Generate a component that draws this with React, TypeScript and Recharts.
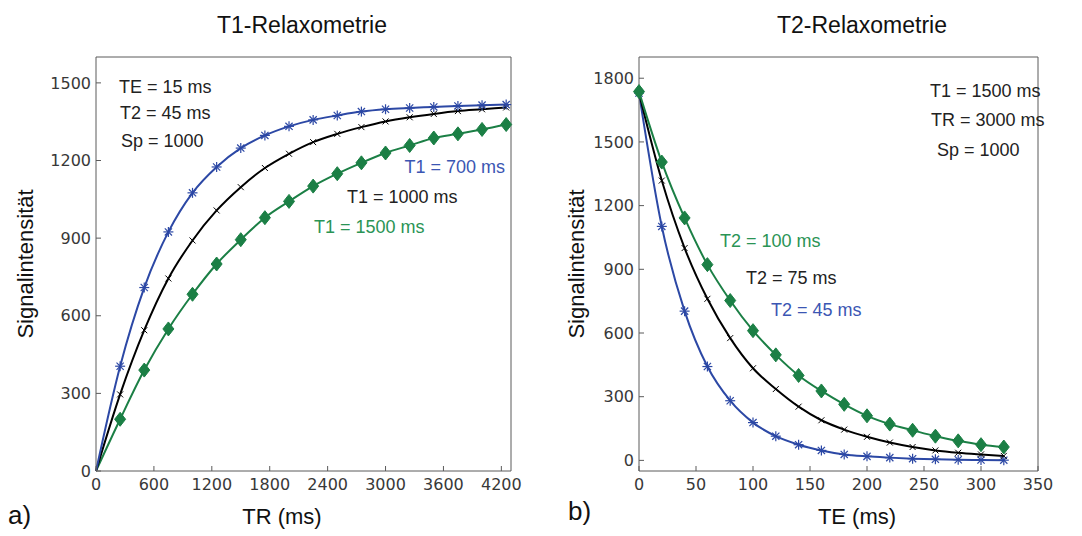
import { Line, LineChart, XAxis, YAxis } from "recharts";

// T1-Relaxometrie: Signal über TR, Marker alle 250 ms
const trValues = [0, 250, 500, 750, 1000, 1250, 1500, 1750, 2000, 2250, 2500, 2750, 3000, 3250, 3500, 3750, 4000, 4250];
const t1_700 = [0, 405, 709, 924, 1075, 1175, 1248, 1297, 1332, 1357, 1374, 1389, 1398, 1403, 1407, 1411, 1414, 1416];
const t1_1000 = [0, 296, 544, 744, 891, 1007, 1097, 1171, 1226, 1271, 1303, 1329, 1351, 1367, 1380, 1391, 1398, 1405];
const t1_1500 = [0, 200, 390, 549, 683, 800, 894, 979, 1042, 1101, 1149, 1191, 1229, 1258, 1287, 1303, 1320, 1339];
const trTicks = [0, 600, 1200, 1800, 2400, 3000, 3600, 4200];
const t1YTicks = [0, 300, 600, 900, 1200, 1500];

// T2-Relaxometrie: Signal über TE, Marker alle 20 ms
const teValues = [0, 20, 40, 60, 80, 100, 120, 140, 160, 180, 200, 220, 240, 260, 280, 300, 320];
const t2_100 = [1737, 1405, 1142, 922, 753, 611, 497, 400, 327, 264, 210, 171, 142, 114, 92, 74, 63];
const t2_75 = [1730, 1318, 1000, 761, 576, 434, 336, 253, 189, 145, 111, 84, 63, 47, 36, 28, 21];
const t2_45 = [1730, 1102, 703, 442, 281, 178, 114, 74, 47, 28, 19, 13, 8, 5, 3, 2, 1];
const teTicks = [0, 50, 100, 150, 200, 250, 300, 350];
const t2YTicks = [0, 300, 600, 900, 1200, 1500, 1800];

const BLUE = "#2c48a5";
const GREEN = "#1b7f45";
const BLACK = "#000000";
const AXIS = "#5a5a5a";

const t1Rows = trValues.map((tr, i) => ({ x: tr, a: t1_700[i], b: t1_1000[i], c: t1_1500[i] }));
const t2Rows = teValues.map((te, i) => ({ x: te, a: t2_45[i], b: t2_75[i], c: t2_100[i] }));

const tickStyle = { fill: "#383838", fontSize: 16, fontFamily: "DejaVu Sans, Verdana, sans-serif" };

function Asterisk(props: any) {
  const { cx, cy, index, payload, skipZero } = props;
  if (cx == null || cy == null || (skipZero && payload.x === 0)) return <g key={`s${index}`} />;
  const r = 5;
  const d = 3.6;
  return (
    <g key={`s${index}`} stroke={BLUE} strokeWidth={1.2}>
      <line x1={cx - r} y1={cy} x2={cx + r} y2={cy} />
      <line x1={cx} y1={cy - r} x2={cx} y2={cy + r} />
      <line x1={cx - d} y1={cy - d} x2={cx + d} y2={cy + d} />
      <line x1={cx - d} y1={cy + d} x2={cx + d} y2={cy - d} />
    </g>
  );
}

function Cross(props: any) {
  const { cx, cy, index, payload, skipZero } = props;
  if (cx == null || cy == null || (skipZero && payload.x === 0)) return <g key={`x${index}`} />;
  const d = 3;
  return (
    <g key={`x${index}`} stroke={BLACK} strokeWidth={1}>
      <line x1={cx - d} y1={cy - d} x2={cx + d} y2={cy + d} />
      <line x1={cx - d} y1={cy + d} x2={cx + d} y2={cy - d} />
    </g>
  );
}

function Diamond(props: any) {
  const { cx, cy, index, payload, skipZero } = props;
  if (cx == null || cy == null || (skipZero && payload.x === 0)) return <g key={`d${index}`} />;
  const w = 5.5;
  const h = 7;
  return (
    <path
      key={`d${index}`}
      d={`M${cx},${cy - h}L${cx + w},${cy}L${cx},${cy + h}L${cx - w},${cy}Z`}
      fill={GREEN}
      stroke={GREEN}
      strokeWidth={1}
    />
  );
}

function boxAxes(xDomain: number[], xTicks: number[], yDomain: number[], yTicks: number[]) {
  return [
    <XAxis
      key="xb"
      dataKey="x"
      type="number"
      domain={xDomain}
      ticks={xTicks}
      height={30}
      stroke={AXIS}
      tickSize={-5}
      tickMargin={13}
      tick={tickStyle}
      interval={0}
    />,
    <XAxis
      key="xt"
      xAxisId="top"
      orientation="top"
      type="number"
      domain={xDomain}
      ticks={xTicks}
      height={1}
      stroke={AXIS}
      tickSize={-5}
      tick={false}
      interval={0}
    />,
    <YAxis
      key="yl"
      type="number"
      domain={yDomain}
      ticks={yTicks}
      width={60}
      stroke={AXIS}
      tickSize={-5}
      tickMargin={10}
      tick={tickStyle}
      interval={0}
    />,
    <YAxis
      key="yr"
      yAxisId="right"
      orientation="right"
      type="number"
      domain={yDomain}
      ticks={yTicks}
      width={1}
      stroke={AXIS}
      tickSize={-5}
      tick={false}
      interval={0}
    />,
  ];
}

export default function App() {
  const txt = { fontFamily: "Liberation Sans, Arial, sans-serif" };
  return (
    <div style={{ position: "absolute", left: 0, top: 0, width: 1082, height: 536, background: "#fff" }}>
      <div style={{ position: "absolute", left: 0, top: 0 }}>
        <LineChart width={540} height={536} data={t1Rows} margin={{ top: 56, right: 28, bottom: 35, left: 36 }}>
          {boxAxes([0, 4300], trTicks, [0, 1600], t1YTicks)}
          <Line
            type="monotone"
            dataKey="c"
            stroke={GREEN}
            strokeWidth={2}
            dot={(p: any) => <Diamond {...p} skipZero />}
            isAnimationActive={false}
          />
          <Line
            type="monotone"
            dataKey="b"
            stroke={BLACK}
            strokeWidth={2}
            dot={(p: any) => <Cross {...p} skipZero />}
            isAnimationActive={false}
          />
          <Line
            type="monotone"
            dataKey="a"
            stroke={BLUE}
            strokeWidth={2}
            dot={(p: any) => <Asterisk {...p} skipZero />}
            isAnimationActive={false}
          />
        </LineChart>
      </div>
      <div style={{ position: "absolute", left: 540, top: 0 }}>
        <LineChart width={542} height={536} data={t2Rows} margin={{ top: 56, right: 43, bottom: 35, left: 39 }}>
          {boxAxes([0, 350], teTicks, [-50, 1900], t2YTicks)}
          <Line
            type="monotone"
            dataKey="a"
            stroke={BLUE}
            strokeWidth={2}
            dot={(p: any) => <Asterisk {...p} />}
            isAnimationActive={false}
          />
          <Line
            type="monotone"
            dataKey="b"
            stroke={BLACK}
            strokeWidth={2}
            dot={(p: any) => <Cross {...p} />}
            isAnimationActive={false}
          />
          <Line
            type="monotone"
            dataKey="c"
            stroke={GREEN}
            strokeWidth={2}
            dot={(p: any) => <Diamond {...p} />}
            isAnimationActive={false}
          />
        </LineChart>
      </div>
      <svg width={1082} height={536} style={{ position: "absolute", left: 0, top: 0, pointerEvents: "none" }}>
        <g style={txt} fill="#111">
          <text x={302} y={33} fontSize={23} textAnchor="middle">T1-Relaxometrie</text>
          <text x={862} y={33} fontSize={23} textAnchor="middle">T2-Relaxometrie</text>
          <text x={33} y={264} fontSize={22} textAnchor="middle" transform="rotate(-90 33 264)">Signalintensität</text>
          <text x={584} y={264} fontSize={22} textAnchor="middle" transform="rotate(-90 584 264)">Signalintensität</text>
          <text x={282} y={524} fontSize={22} textAnchor="middle">TR (ms)</text>
          <text x={857} y={524} fontSize={22} textAnchor="middle">TE (ms)</text>
          <text x={8} y={524} fontSize={26}>a)</text>
          <text x={568} y={520} fontSize={26}>b)</text>
        </g>
        <g style={txt} fontSize={18}>
          <text x={119} y={93} fill="#222">TE = 15 ms</text>
          <text x={120} y={119} fill="#222">T2 = 45 ms</text>
          <text x={121} y={147} fill="#222">Sp = 1000</text>
          <text x={505} y={173} fill="#3b56b3" textAnchor="end">T1 = 700 ms</text>
          <text x={347} y={203} fill="#222">T1 = 1000 ms</text>
          <text x={314} y={233} fill="#2a9455">T1 = 1500 ms</text>
          <text x={930} y={97} fill="#222">T1 = 1500 ms</text>
          <text x={931} y={126} fill="#222">TR = 3000 ms</text>
          <text x={937} y={156} fill="#222">Sp = 1000</text>
          <text x={720} y={247} fill="#2a9455">T2 = 100 ms</text>
          <text x={746} y={284} fill="#222">T2 = 75 ms</text>
          <text x={771} y={316} fill="#3b56b3">T2 = 45 ms</text>
        </g>
      </svg>
    </div>
  );
}
